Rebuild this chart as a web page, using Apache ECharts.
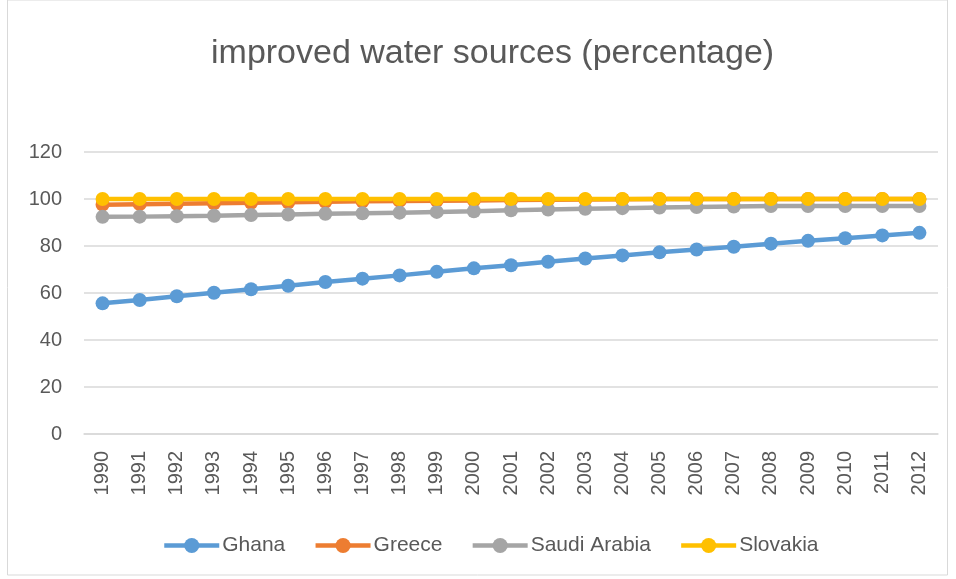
<!DOCTYPE html>
<html>
<head>
<meta charset="utf-8">
<script src="https://cdn.jsdelivr.net/npm/echarts@6/dist/echarts.min.js"></script>
<style>
  html, body { margin: 0; padding: 0; background: #fff; }
  #chart { width: 956px; height: 579px; }
</style>
</head>
<body>
<div id="chart"></div>
<script>
// values
var years = ["1990", "1991", "1992", "1993", "1994", "1995", "1996", "1997", "1998", "1999", "2000",
    "2001", "2002", "2003", "2004", "2005", "2006", "2007", "2008", "2009", "2010", "2011", "2012"];

var ghana = [55.6, 57.0, 58.6, 60.1, 61.6, 63.1, 64.7, 66.1, 67.5, 69.0, 70.5,
    71.8, 73.3, 74.7, 76.0, 77.3, 78.5, 79.7, 81.0, 82.2, 83.3, 84.5, 85.6];
var greece = [97.6, 97.8, 98.0, 98.2, 98.4, 98.6, 98.8, 99.0, 99.2, 99.3, 99.4,
    99.6, 99.7, 99.8, 99.9, 100, 100, 100, 100, 100, 100, 100, 100];
var saudi = [92.4, 92.5, 92.7, 92.9, 93.2, 93.4, 93.7, 93.9, 94.2, 94.5, 94.8,
    95.2, 95.5, 95.8, 96.1, 96.4, 96.6, 96.8, 97.0, 97.0, 97.0, 97.0, 97.0];
var slovakia = [100, 100, 100, 100, 100, 100, 100, 100, 100, 100, 100,
    100, 100, 100, 100, 100, 100, 100, 100, 100, 100, 100, 100];

var seriesNames = ["Ghana", "Greece", "Saudi Arabia", "Slovakia"];
var seriesColors = ["#5B9BD5", "#ED7D31", "#A5A5A5", "#FFC000"];
var seriesData = [ghana, greece, saudi, slovakia];

var FONT = "Liberation Sans";
var TEXT = "#595959";

var chart = echarts.init(document.getElementById("chart"));

var series = [];
for (var i = 0; i < seriesNames.length; i++) {
    series.push({
        name: seriesNames[i],
        type: "line",
        data: seriesData[i],
        symbol: "circle",
        symbolSize: 14,
        showAllSymbol: true,
        itemStyle: { color: seriesColors[i] },
        lineStyle: { width: 4.5, color: seriesColors[i] },
        emphasis: { disabled: true },
        animation: false
    });
}

var option = {
    backgroundColor: "#fff",
    animation: false,
    title: {
        text: "improved water sources (percentage)",
        left: 206,
        top: 32,
        textStyle: { fontFamily: FONT, fontSize: 34, fontWeight: "normal", color: TEXT }
    },
    grid: { left: 84, right: 18, top: 152, bottom: 145 },
    xAxis: {
        type: "category",
        data: years,
        boundaryGap: true,
        axisLine: { lineStyle: { color: "#D9D9D9", width: 1.5 } },
        axisTick: { show: false },
        axisLabel: { rotate: 90, color: TEXT, fontFamily: FONT, fontSize: 20, margin: 17, interval: 0 }
    },
    yAxis: {
        type: "value",
        min: 0,
        max: 120,
        interval: 20,
        axisLine: { show: false },
        axisTick: { show: false },
        splitLine: { lineStyle: { color: "#D9D9D9", width: 1.5 } },
        axisLabel: { color: TEXT, fontFamily: FONT, fontSize: 20, margin: 22 }
    },
    legend: {
        data: seriesNames,
        bottom: 18,
        left: 157,
        itemWidth: 55,
        itemHeight: 19,
        itemGap: 28,
        lineStyle: { width: 4.5 },
        textStyle: { color: TEXT, fontFamily: FONT, fontSize: 21, padding: [0, 0, 0, -2] }
    },
    graphic: [{
        type: "rect",
        shape: { x: 7.5, y: 0, width: 940, height: 575 },
        style: { fill: "none", stroke: "#D9D9D9", lineWidth: 1 },
        silent: true
    }],
    series: series
};

chart.setOption(option);
</script>
</body>
</html>
